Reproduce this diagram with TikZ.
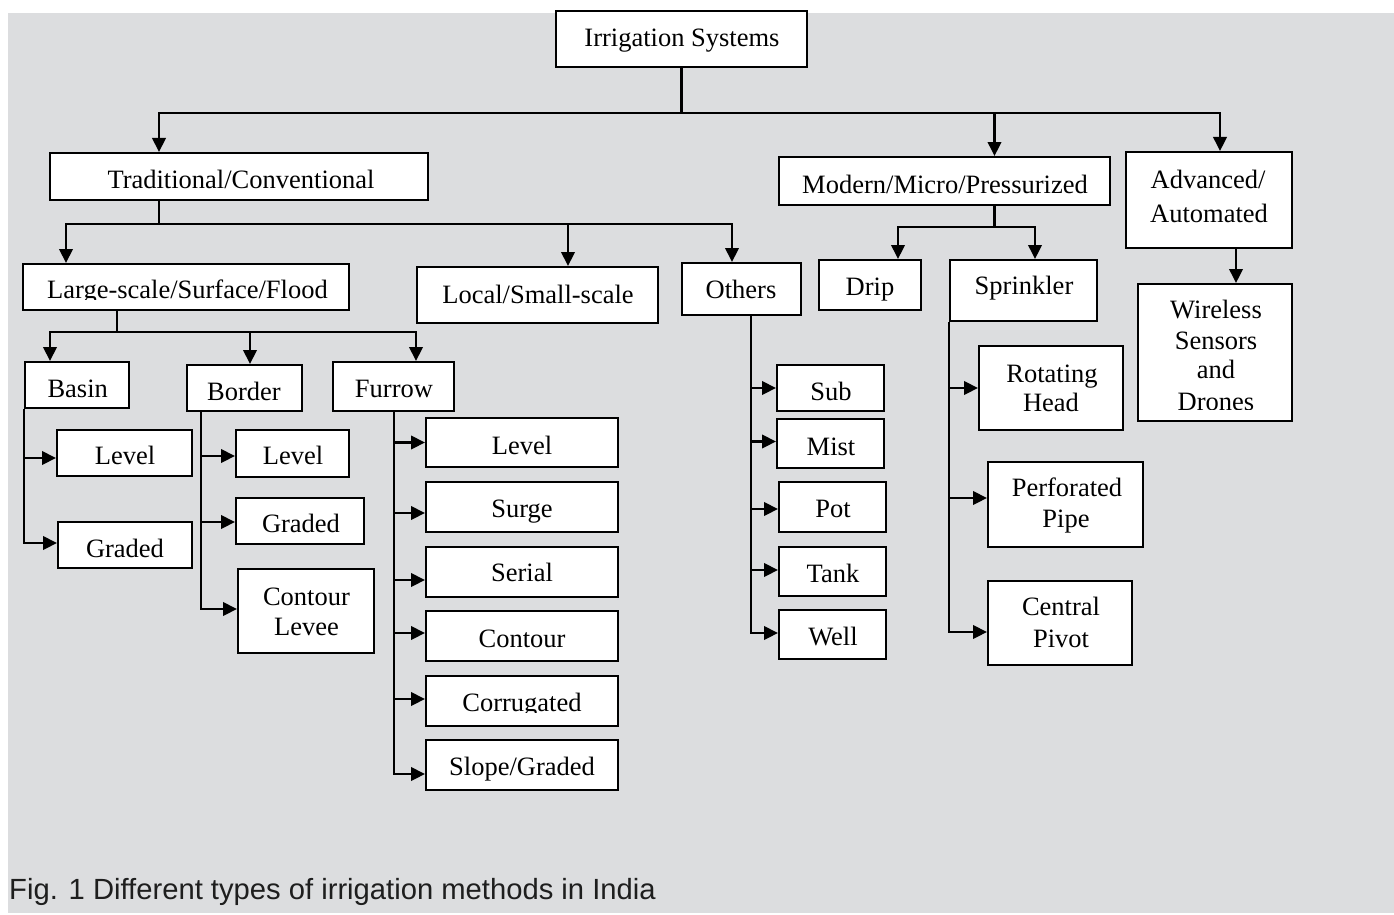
\documentclass[tikz,border=0pt]{standalone}
\usepackage{fontspec}
\setmainfont{Liberation Serif}
\newfontfamily\capfont{Liberation Sans}
\usetikzlibrary{arrows.meta}
\definecolor{bgc}{RGB}{220,221,223}
\definecolor{capc}{RGB}{30,30,30}
\newcommand\bx[5]{\node[box, minimum width=#4pt, minimum height=#5pt] (#1) at (#2,#3) {};}
\newcommand\tx[4]{\node[txt] (#1) at (#2,#3) {#4};}
\begin{document}
\begin{tikzpicture}[x=1pt,y=-1pt,
  box/.style={draw, fill=white, line width=2pt, inner sep=0pt, rectangle},
  txt/.style={inner sep=0pt, font=\fontsize{26.5}{30}\selectfont, anchor=base},
  ln/.style={line width=2.1pt},
  arr/.style={ln, -{Triangle[length=14pt,width=13.5pt]}}]
\useasboundingbox (0,0) rectangle (1394,915);
\fill[white] (0,0) rectangle (1394,915);
\fill[bgc] (8,13) rectangle (1394,913);
% boxes
\bx{root}{681.5}{39}{251}{56}
\bx{trad}{239}{176.5}{378}{47}
\bx{modern}{944.5}{181}{331}{48}
\bx{adv}{1209}{200}{166}{96}
\bx{large}{186}{287}{326}{46}
\bx{local}{537.5}{295}{241}{56}
\bx{others}{741.5}{289}{119}{52}
\bx{drip}{870}{285}{102}{50}
\bx{sprink}{1023.5}{290.5}{147}{61}
\bx{wireless}{1215}{352.5}{154}{137}
\bx{basin}{77}{385}{104}{46}
\bx{border}{244.5}{388}{115}{46}
\bx{furrow}{393.5}{386.5}{121}{49}
\bx{bLevel}{124.5}{453}{135}{46}
\bx{bGraded}{125}{545}{134}{46}
\bx{dLevel}{292.5}{453.5}{113}{47}
\bx{dGraded}{300}{521}{128}{46}
\bx{dContour}{306}{611}{136}{84}
\bx{fLevel}{522}{442.5}{192}{49}
\bx{fSurge}{522}{507}{192}{50}
\bx{fSerial}{522}{572}{192}{50}
\bx{fContour}{522}{636}{192}{50}
\bx{fCorr}{522}{701}{192}{50}
\bx{fSlope}{522}{765}{192}{50}
\bx{oSub}{830.5}{388}{107}{46}
\bx{oMist}{830.5}{443.5}{107}{49}
\bx{oPot}{832.5}{507}{107}{50}
\bx{oTank}{832.5}{571.5}{107}{49}
\bx{oWell}{832.5}{634.5}{107}{49}
\bx{sRot}{1051}{388}{144}{84}
\bx{sPerf}{1065.5}{504.5}{155}{85}
\bx{sPivot}{1060}{623}{144}{84}
% texts
\tx{t0}{682}{47}{Irrigation Systems}
\tx{t1}{241}{188}{Traditional/Conventional}
\tx{t2}{945}{193}{Modern/Micro/Pressurized}
\tx{t3a}{1208}{188}{Advanced/}
\tx{t3b}{1209}{222}{Automated}
\begin{scope}
\clip (23,264) rectangle (349,299);
\tx{t4}{187.5}{298}{Large-scale/Surface/Flood}
\end{scope}
\tx{t5}{538}{303}{Local/Small-scale}
\tx{t6}{741}{298}{Others}
\tx{t7}{870}{295}{Drip}
\tx{t8}{1024}{294}{Sprinkler}
\tx{t9a}{1216}{318}{Wireless}
\tx{t9b}{1216}{349}{Sensors}
\tx{t9c}{1216}{378}{and}
\begin{scope}
\clip (1138,384) rectangle (1292,409);
\tx{t9d}{1216}{410}{Drones}
\end{scope}
\tx{t10}{77.7}{397}{Basin}
\tx{t11}{244}{400}{Border}
\tx{t12}{394}{397}{Furrow}
\tx{t13}{125}{464}{Level}
\tx{t14}{125}{557}{Graded}
\tx{t15}{293}{464}{Level}
\tx{t16}{301}{532}{Graded}
\tx{t17a}{306.5}{605}{Contour}
\tx{t17b}{306.5}{635}{Levee}
\tx{t18}{522}{454}{Level}
\tx{t19}{522}{517}{Surge}
\tx{t20}{522}{581}{Serial}
\tx{t21}{522}{647}{Contour}
\begin{scope}
\clip (426,676) rectangle (618,712);
\tx{t22}{522}{711}{Corrugated}
\end{scope}
\tx{t23}{522}{775}{Slope/Graded}
\begin{scope}
\clip (777,365) rectangle (884,401);
\tx{t24}{831}{400}{Sub}
\end{scope}
\tx{t25}{831}{455}{Mist}
\tx{t26}{833}{517}{Pot}
\tx{t27}{833}{582}{Tank}
\tx{t28}{833}{645}{Well}
\tx{t29a}{1052}{382}{Rotating}
\tx{t29b}{1051}{411}{Head}
\tx{t30a}{1067}{496}{Perforated}
\tx{t30b}{1066}{527}{Pipe}
\tx{t31a}{1061}{615}{Central}
\tx{t31b}{1061}{647}{Pivot}
\node[anchor=base west, inner sep=0pt, text=capc, font=\capfont\fontsize{29.2}{32}\selectfont] (cap) at (9,899) {Fig. 1 Different types of irrigation methods in India};
% connectors: level 1
\draw[ln] (root.south) -- ++(0,45) coordinate (j0);
\draw[arr] (j0) -| ([xshift=110pt]trad.north west);
\draw[arr] (j0) -| ([xshift=95pt]adv.north west);
\draw[arr] ([xshift=50pt,yshift=42pt]modern.north) -- ([xshift=50pt]modern.north);
% traditional
\draw[ln] ([xshift=110pt]trad.south west) -- ++(0,23) coordinate (j1);
\draw[arr] (j1) -| ([xshift=44pt]large.north west);
\draw[arr] (j1) -| ([xshift=51pt]others.north west);
\draw[arr] ([xshift=152pt,yshift=41pt]local.north west) -- ([xshift=152pt]local.north west);
% large-scale
\draw[ln] ([xshift=95pt]large.south west) -- ++(0,21) coordinate (j2);
\draw[arr] (j2) -| ([xshift=26pt]basin.north west);
\draw[arr] (j2) -| ([xshift=64pt]border.north west);
\draw[arr] (j2) -| ([xshift=84pt]furrow.north west);
% basin
\draw[arr] (basin.south west) |- ([yshift=-5pt]bLevel.west);
\draw[arr] (basin.south west) |- ([yshift=2pt]bGraded.west);
% border
\draw[arr] ([xshift=15pt]border.south west) |- ([yshift=-2.5pt]dLevel.west);
\draw[arr] ([xshift=15pt]border.south west) |- ([yshift=-1pt]dGraded.west);
\draw[arr] ([xshift=15pt]border.south west) |- ([yshift=2pt]dContour.west);
% furrow
\draw[arr] ([xshift=62pt]furrow.south west) |- (fLevel.west);
\draw[arr] ([xshift=62pt]furrow.south west) |- ([yshift=-6pt]fSurge.west);
\draw[arr] ([xshift=62pt]furrow.south west) |- ([yshift=-8pt]fSerial.west);
\draw[arr] ([xshift=62pt]furrow.south west) |- ([yshift=3pt]fContour.west);
\draw[arr] ([xshift=62pt]furrow.south west) |- ([yshift=2pt]fCorr.west);
\draw[arr] ([xshift=62pt]furrow.south west) |- ([yshift=-9pt]fSlope.west);
% others
\draw[arr] ([xshift=70pt]others.south west) |- (oSub.west);
\draw[arr] ([xshift=70pt]others.south west) |- ([yshift=2pt]oMist.west);
\draw[arr] ([xshift=70pt]others.south west) |- ([yshift=-2pt]oPot.west);
\draw[arr] ([xshift=70pt]others.south west) |- ([yshift=1.5pt]oTank.west);
\draw[arr] ([xshift=70pt]others.south west) |- ([yshift=1.5pt]oWell.west);
% modern
\draw[ln] ([xshift=50pt]modern.south) -- ++(0,21) coordinate (j3);
\draw[arr] (j3) -| ([xshift=80pt]drip.north west);
\draw[arr] (j3) -| ([xshift=86pt]sprink.north west);
% sprinkler
\draw[arr] (sprink.south west) |- (sRot.west);
\draw[arr] (sprink.south west) |- ([yshift=6.5pt]sPerf.west);
\draw[arr] (sprink.south west) |- ([yshift=-9pt]sPivot.west);
% advanced
\draw[arr] ([xshift=111pt]adv.south west) -- ([xshift=99pt]wireless.north west);
\end{tikzpicture}
\end{document}
